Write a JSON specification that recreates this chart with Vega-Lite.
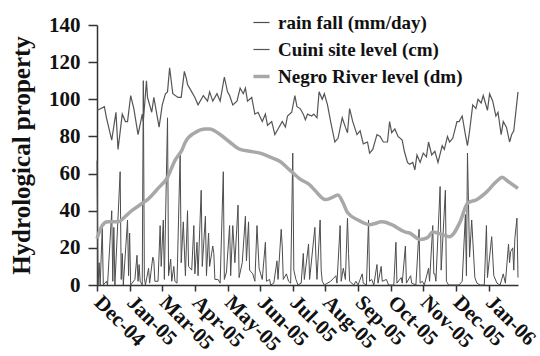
{
  "$schema": "https://vega.github.io/schema/vega-lite/v6.json",
  "width": 421,
  "height": 260,
  "autosize": {"type": "none"},
  "padding": {"left": 97, "top": 25, "right": 22, "bottom": 71},
  "background": "white",
  "config": {
    "view": {"stroke": null},
    "font": "Liberation Serif",
    "axis": {"grid": false, "domainColor": "#333", "domainWidth": 1.5, "tickColor": "#333", "tickWidth": 1.5, "labelColor": "#111", "labelFont": "Liberation Serif", "labelFontWeight": "bold", "labelFontSize": 21, "titleFont": "Liberation Serif", "titleFontWeight": "bold", "titleColor": "#111"}
  },
  "data": {"values": [
    {"s":"rain","d":0,"v":67},{"s":"rain","d":1,"v":0},{"s":"rain","d":2,"v":12},{"s":"rain","d":3,"v":0},{"s":"rain","d":5,"v":31},{"s":"rain","d":6,"v":0},{"s":"rain","d":9,"v":2},{"s":"rain","d":10,"v":0},{"s":"rain","d":14,"v":40},{"s":"rain","d":15,"v":2},{"s":"rain","d":16,"v":31},{"s":"rain","d":17,"v":0},{"s":"rain","d":22,"v":61},{"s":"rain","d":23,"v":3},{"s":"rain","d":24,"v":17},{"s":"rain","d":25,"v":0},{"s":"rain","d":29,"v":35},{"s":"rain","d":30,"v":5},{"s":"rain","d":31,"v":28},{"s":"rain","d":32,"v":0},{"s":"rain","d":36,"v":3},{"s":"rain","d":38,"v":16},{"s":"rain","d":39,"v":2},{"s":"rain","d":40,"v":11},{"s":"rain","d":41,"v":2},{"s":"rain","d":43,"v":0},{"s":"rain","d":44,"v":110},{"s":"rain","d":45,"v":4},{"s":"rain","d":46,"v":0},{"s":"rain","d":49,"v":9},{"s":"rain","d":50,"v":1},{"s":"rain","d":53,"v":15},{"s":"rain","d":54,"v":13},{"s":"rain","d":55,"v":2},{"s":"rain","d":58,"v":2},{"s":"rain","d":60,"v":32},{"s":"rain","d":61,"v":10},{"s":"rain","d":63,"v":35},{"s":"rain","d":64,"v":3},{"s":"rain","d":67,"v":90},{"s":"rain","d":68,"v":5},{"s":"rain","d":70,"v":14},{"s":"rain","d":71,"v":2},{"s":"rain","d":73,"v":10},{"s":"rain","d":74,"v":2},{"s":"rain","d":76,"v":1},{"s":"rain","d":79,"v":71},{"s":"rain","d":80,"v":12},{"s":"rain","d":82,"v":34},{"s":"rain","d":84,"v":5},{"s":"rain","d":86,"v":40},{"s":"rain","d":87,"v":10},{"s":"rain","d":90,"v":8},{"s":"rain","d":92,"v":32},{"s":"rain","d":93,"v":6},{"s":"rain","d":95,"v":23},{"s":"rain","d":96,"v":5},{"s":"rain","d":99,"v":51},{"s":"rain","d":100,"v":10},{"s":"rain","d":103,"v":37},{"s":"rain","d":104,"v":5},{"s":"rain","d":106,"v":28},{"s":"rain","d":107,"v":10},{"s":"rain","d":110,"v":21},{"s":"rain","d":111,"v":17},{"s":"rain","d":112,"v":3},{"s":"rain","d":115,"v":3},{"s":"rain","d":117,"v":1},{"s":"rain","d":120,"v":61},{"s":"rain","d":121,"v":3},{"s":"rain","d":123,"v":7},{"s":"rain","d":126,"v":32},{"s":"rain","d":127,"v":5},{"s":"rain","d":129,"v":32},{"s":"rain","d":131,"v":12},{"s":"rain","d":134,"v":43},{"s":"rain","d":135,"v":4},{"s":"rain","d":138,"v":12},{"s":"rain","d":141,"v":37},{"s":"rain","d":142,"v":13},{"s":"rain","d":144,"v":34},{"s":"rain","d":145,"v":8},{"s":"rain","d":148,"v":6},{"s":"rain","d":150,"v":2},{"s":"rain","d":152,"v":32},{"s":"rain","d":154,"v":9},{"s":"rain","d":157,"v":3},{"s":"rain","d":160,"v":23},{"s":"rain","d":161,"v":2},{"s":"rain","d":164,"v":3},{"s":"rain","d":165,"v":0},{"s":"rain","d":168,"v":1},{"s":"rain","d":171,"v":13},{"s":"rain","d":172,"v":3},{"s":"rain","d":175,"v":30},{"s":"rain","d":176,"v":21},{"s":"rain","d":177,"v":3},{"s":"rain","d":180,"v":6},{"s":"rain","d":182,"v":2},{"s":"rain","d":184,"v":1},{"s":"rain","d":186,"v":71},{"s":"rain","d":187,"v":8},{"s":"rain","d":189,"v":3},{"s":"rain","d":191,"v":0},{"s":"rain","d":194,"v":1},{"s":"rain","d":196,"v":17},{"s":"rain","d":197,"v":3},{"s":"rain","d":201,"v":22},{"s":"rain","d":202,"v":3},{"s":"rain","d":207,"v":31},{"s":"rain","d":208,"v":15},{"s":"rain","d":209,"v":3},{"s":"rain","d":212,"v":35},{"s":"rain","d":213,"v":8},{"s":"rain","d":214,"v":2},{"s":"rain","d":216,"v":0},{"s":"rain","d":222,"v":2},{"s":"rain","d":227,"v":5},{"s":"rain","d":228,"v":1},{"s":"rain","d":231,"v":32},{"s":"rain","d":232,"v":2},{"s":"rain","d":234,"v":9},{"s":"rain","d":236,"v":3},{"s":"rain","d":238,"v":36},{"s":"rain","d":239,"v":17},{"s":"rain","d":240,"v":2},{"s":"rain","d":244,"v":0},{"s":"rain","d":246,"v":2},{"s":"rain","d":248,"v":0},{"s":"rain","d":252,"v":6},{"s":"rain","d":253,"v":1},{"s":"rain","d":256,"v":0},{"s":"rain","d":258,"v":35},{"s":"rain","d":259,"v":2},{"s":"rain","d":261,"v":3},{"s":"rain","d":263,"v":0},{"s":"rain","d":266,"v":11},{"s":"rain","d":267,"v":1},{"s":"rain","d":270,"v":10},{"s":"rain","d":271,"v":2},{"s":"rain","d":275,"v":3},{"s":"rain","d":277,"v":0},{"s":"rain","d":282,"v":0},{"s":"rain","d":284,"v":23},{"s":"rain","d":285,"v":1},{"s":"rain","d":289,"v":4},{"s":"rain","d":290,"v":1},{"s":"rain","d":293,"v":21},{"s":"rain","d":294,"v":1},{"s":"rain","d":298,"v":5},{"s":"rain","d":299,"v":1},{"s":"rain","d":303,"v":0},{"s":"rain","d":306,"v":30},{"s":"rain","d":307,"v":1},{"s":"rain","d":309,"v":2},{"s":"rain","d":311,"v":0},{"s":"rain","d":315,"v":9},{"s":"rain","d":316,"v":2},{"s":"rain","d":319,"v":32},{"s":"rain","d":320,"v":6},{"s":"rain","d":321,"v":6},{"s":"rain","d":322,"v":2},{"s":"rain","d":326,"v":53},{"s":"rain","d":327,"v":8},{"s":"rain","d":331,"v":51},{"s":"rain","d":332,"v":2},{"s":"rain","d":334,"v":0},{"s":"rain","d":344,"v":0},{"s":"rain","d":347,"v":2},{"s":"rain","d":350,"v":38},{"s":"rain","d":351,"v":5},{"s":"rain","d":352,"v":71},{"s":"rain","d":354,"v":15},{"s":"rain","d":356,"v":35},{"s":"rain","d":359,"v":4},{"s":"rain","d":361,"v":1},{"s":"rain","d":364,"v":0},{"s":"rain","d":368,"v":0},{"s":"rain","d":370,"v":32},{"s":"rain","d":371,"v":4},{"s":"rain","d":375,"v":26},{"s":"rain","d":377,"v":5},{"s":"rain","d":380,"v":1},{"s":"rain","d":383,"v":0},{"s":"rain","d":386,"v":6},{"s":"rain","d":388,"v":1},{"s":"rain","d":391,"v":22},{"s":"rain","d":392,"v":12},{"s":"rain","d":393,"v":18},{"s":"rain","d":395,"v":20},{"s":"rain","d":396,"v":8},{"s":"rain","d":397,"v":25},{"s":"rain","d":399,"v":36},{"s":"rain","d":400,"v":4},
    {"s":"cuini","d":0,"v":94},{"s":"cuini","d":7,"v":96},{"s":"cuini","d":9,"v":90},{"s":"cuini","d":14,"v":78},{"s":"cuini","d":18,"v":93},{"s":"cuini","d":20,"v":73},{"s":"cuini","d":24,"v":92},{"s":"cuini","d":27,"v":88},{"s":"cuini","d":29,"v":88},{"s":"cuini","d":32,"v":102},{"s":"cuini","d":35,"v":95},{"s":"cuini","d":39,"v":81},{"s":"cuini","d":43,"v":92},{"s":"cuini","d":44,"v":88},{"s":"cuini","d":47,"v":110},{"s":"cuini","d":48,"v":101},{"s":"cuini","d":52,"v":93},{"s":"cuini","d":54,"v":101},{"s":"cuini","d":59,"v":85},{"s":"cuini","d":62,"v":97},{"s":"cuini","d":65,"v":103},{"s":"cuini","d":67,"v":104},{"s":"cuini","d":69,"v":117},{"s":"cuini","d":72,"v":103},{"s":"cuini","d":77,"v":101},{"s":"cuini","d":80,"v":101},{"s":"cuini","d":83,"v":115},{"s":"cuini","d":85,"v":111},{"s":"cuini","d":86,"v":108},{"s":"cuini","d":90,"v":104},{"s":"cuini","d":93,"v":101},{"s":"cuini","d":96,"v":97},{"s":"cuini","d":100,"v":101},{"s":"cuini","d":101,"v":102},{"s":"cuini","d":105,"v":99},{"s":"cuini","d":107,"v":104},{"s":"cuini","d":110,"v":99},{"s":"cuini","d":114,"v":103},{"s":"cuini","d":117,"v":99},{"s":"cuini","d":121,"v":112},{"s":"cuini","d":124,"v":104},{"s":"cuini","d":126,"v":102},{"s":"cuini","d":129,"v":97},{"s":"cuini","d":133,"v":99},{"s":"cuini","d":136,"v":106},{"s":"cuini","d":139,"v":103},{"s":"cuini","d":141,"v":106},{"s":"cuini","d":143,"v":99},{"s":"cuini","d":147,"v":101},{"s":"cuini","d":150,"v":92},{"s":"cuini","d":153,"v":93},{"s":"cuini","d":157,"v":88},{"s":"cuini","d":160,"v":92},{"s":"cuini","d":162,"v":86},{"s":"cuini","d":166,"v":88},{"s":"cuini","d":169,"v":81},{"s":"cuini","d":172,"v":84},{"s":"cuini","d":176,"v":88},{"s":"cuini","d":179,"v":85},{"s":"cuini","d":181,"v":91},{"s":"cuini","d":185,"v":93},{"s":"cuini","d":188,"v":102},{"s":"cuini","d":190,"v":96},{"s":"cuini","d":193,"v":95},{"s":"cuini","d":196,"v":92},{"s":"cuini","d":198,"v":89},{"s":"cuini","d":200,"v":92},{"s":"cuini","d":204,"v":91},{"s":"cuini","d":206,"v":92},{"s":"cuini","d":209,"v":90},{"s":"cuini","d":211,"v":104},{"s":"cuini","d":214,"v":100},{"s":"cuini","d":216,"v":103},{"s":"cuini","d":219,"v":97},{"s":"cuini","d":222,"v":88},{"s":"cuini","d":226,"v":77},{"s":"cuini","d":229,"v":79},{"s":"cuini","d":233,"v":90},{"s":"cuini","d":236,"v":85},{"s":"cuini","d":238,"v":82},{"s":"cuini","d":240,"v":95},{"s":"cuini","d":243,"v":88},{"s":"cuini","d":247,"v":81},{"s":"cuini","d":250,"v":83},{"s":"cuini","d":253,"v":76},{"s":"cuini","d":257,"v":77},{"s":"cuini","d":259,"v":71},{"s":"cuini","d":262,"v":73},{"s":"cuini","d":266,"v":81},{"s":"cuini","d":269,"v":80},{"s":"cuini","d":272,"v":77},{"s":"cuini","d":276,"v":77},{"s":"cuini","d":278,"v":88},{"s":"cuini","d":280,"v":82},{"s":"cuini","d":283,"v":84},{"s":"cuini","d":286,"v":80},{"s":"cuini","d":290,"v":78},{"s":"cuini","d":292,"v":72},{"s":"cuini","d":295,"v":66},{"s":"cuini","d":297,"v":65},{"s":"cuini","d":300,"v":66},{"s":"cuini","d":302,"v":62},{"s":"cuini","d":304,"v":70},{"s":"cuini","d":307,"v":66},{"s":"cuini","d":310,"v":71},{"s":"cuini","d":313,"v":69},{"s":"cuini","d":315,"v":77},{"s":"cuini","d":318,"v":70},{"s":"cuini","d":321,"v":72},{"s":"cuini","d":324,"v":66},{"s":"cuini","d":328,"v":75},{"s":"cuini","d":330,"v":73},{"s":"cuini","d":333,"v":80},{"s":"cuini","d":335,"v":77},{"s":"cuini","d":338,"v":79},{"s":"cuini","d":342,"v":88},{"s":"cuini","d":344,"v":88},{"s":"cuini","d":347,"v":91},{"s":"cuini","d":350,"v":81},{"s":"cuini","d":352,"v":75},{"s":"cuini","d":354,"v":83},{"s":"cuini","d":357,"v":97},{"s":"cuini","d":360,"v":95},{"s":"cuini","d":362,"v":100},{"s":"cuini","d":365,"v":98},{"s":"cuini","d":367,"v":102},{"s":"cuini","d":369,"v":98},{"s":"cuini","d":371,"v":94},{"s":"cuini","d":373,"v":103},{"s":"cuini","d":376,"v":99},{"s":"cuini","d":379,"v":91},{"s":"cuini","d":381,"v":93},{"s":"cuini","d":384,"v":81},{"s":"cuini","d":386,"v":88},{"s":"cuini","d":389,"v":85},{"s":"cuini","d":392,"v":77},{"s":"cuini","d":394,"v":81},{"s":"cuini","d":396,"v":83},{"s":"cuini","d":400,"v":104},
    {"s":"negro","d":0,"v":25},{"s":"negro","d":5,"v":32},{"s":"negro","d":10,"v":34},{"s":"negro","d":20,"v":34},{"s":"negro","d":27,"v":37},{"s":"negro","d":33,"v":40},{"s":"negro","d":43,"v":44},{"s":"negro","d":48,"v":46},{"s":"negro","d":58,"v":52},{"s":"negro","d":67,"v":58},{"s":"negro","d":74,"v":67},{"s":"negro","d":81,"v":73},{"s":"negro","d":84,"v":77},{"s":"negro","d":93,"v":82},{"s":"negro","d":103,"v":84},{"s":"negro","d":107,"v":84},{"s":"negro","d":117,"v":81},{"s":"negro","d":126,"v":77},{"s":"negro","d":136,"v":73},{"s":"negro","d":145,"v":72},{"s":"negro","d":155,"v":71},{"s":"negro","d":164,"v":69},{"s":"negro","d":174,"v":66.5},{"s":"negro","d":183,"v":62},{"s":"negro","d":193,"v":57},{"s":"negro","d":202,"v":54},{"s":"negro","d":207,"v":51},{"s":"negro","d":217,"v":46},{"s":"negro","d":223,"v":47},{"s":"negro","d":229,"v":48.5},{"s":"negro","d":234,"v":44},{"s":"negro","d":238,"v":39},{"s":"negro","d":248,"v":35},{"s":"negro","d":259,"v":32.5},{"s":"negro","d":271,"v":34},{"s":"negro","d":280,"v":32.5},{"s":"negro","d":293,"v":28.5},{"s":"negro","d":297,"v":28},{"s":"negro","d":307,"v":24.5},{"s":"negro","d":314,"v":25.5},{"s":"negro","d":319,"v":28.5},{"s":"negro","d":329,"v":27},{"s":"negro","d":335,"v":26},{"s":"negro","d":345,"v":34},{"s":"negro","d":352,"v":44},{"s":"negro","d":361,"v":46},{"s":"negro","d":370,"v":50},{"s":"negro","d":380,"v":56},{"s":"negro","d":385,"v":58},{"s":"negro","d":390,"v":56},{"s":"negro","d":400,"v":52}
  ]},
  "encoding": {
    "x": {"field": "d", "type": "quantitative", "scale": {"domain": [0, 400], "nice": false, "zero": false},
      "axis": {"title": null, "values": [0,31,62,93,124,155,186,217,248,279,310,341,372], "labelExpr": "['Dec-04','Jan-05','Mar-05','Apr-05','May-05','Jun-05','Jul-05','Aug-05','Sep-05','Oct-05','Nov-05','Dec-05','Jan-06'][round(datum.value/31)]", "labelAngle": 45, "labelAlign": "left", "labelBaseline": "middle", "tickSize": 6, "labelPadding": 8, "labelFlush": false, "labelOverlap": false}},
    "y": {"field": "v", "type": "quantitative", "scale": {"domain": [0, 140], "nice": false},
      "axis": {"title": "Hydrological property", "titleFontSize": 25, "values": [0,20,40,60,80,100,120,140], "tickSize": 9, "labelPadding": 8, "titlePadding": 14}},
    "color": {"field": "s", "type": "nominal", "scale": {"domain": ["rain", "cuini", "negro"], "range": ["#4d4d4d", "#555555", "#a8a8a8"]},
      "legend": {"title": null, "orient": "none", "legendX": 155, "legendY": -12, "symbolType": "stroke", "symbolSize": 260, "labelFontSize": 19, "labelLimit": 400, "labelFont": "Liberation Serif", "labelFontWeight": "bold", "labelColor": "#111", "labelOffset": 7, "rowPadding": 7, "labelExpr": "{'rain': 'rain fall (mm/day)', 'cuini': 'Cuini site level (cm)', 'negro': 'Negro River level (dm)'}[datum.value]",
        "encode": {"symbols": {"update": {"strokeWidth": {"signal": "datum.value === 'negro' ? 3.5 : 1.2"}}}}}}
  },
  "layer": [
    {"transform": [{"filter": "datum.s == 'rain'"}], "mark": {"type": "line", "strokeWidth": 1}},
    {"transform": [{"filter": "datum.s == 'cuini'"}], "mark": {"type": "line", "strokeWidth": 1.2}},
    {"transform": [{"filter": "datum.s == 'negro'"}], "mark": {"type": "line", "strokeWidth": 3.5, "interpolate": "monotone"}}
  ]
}
